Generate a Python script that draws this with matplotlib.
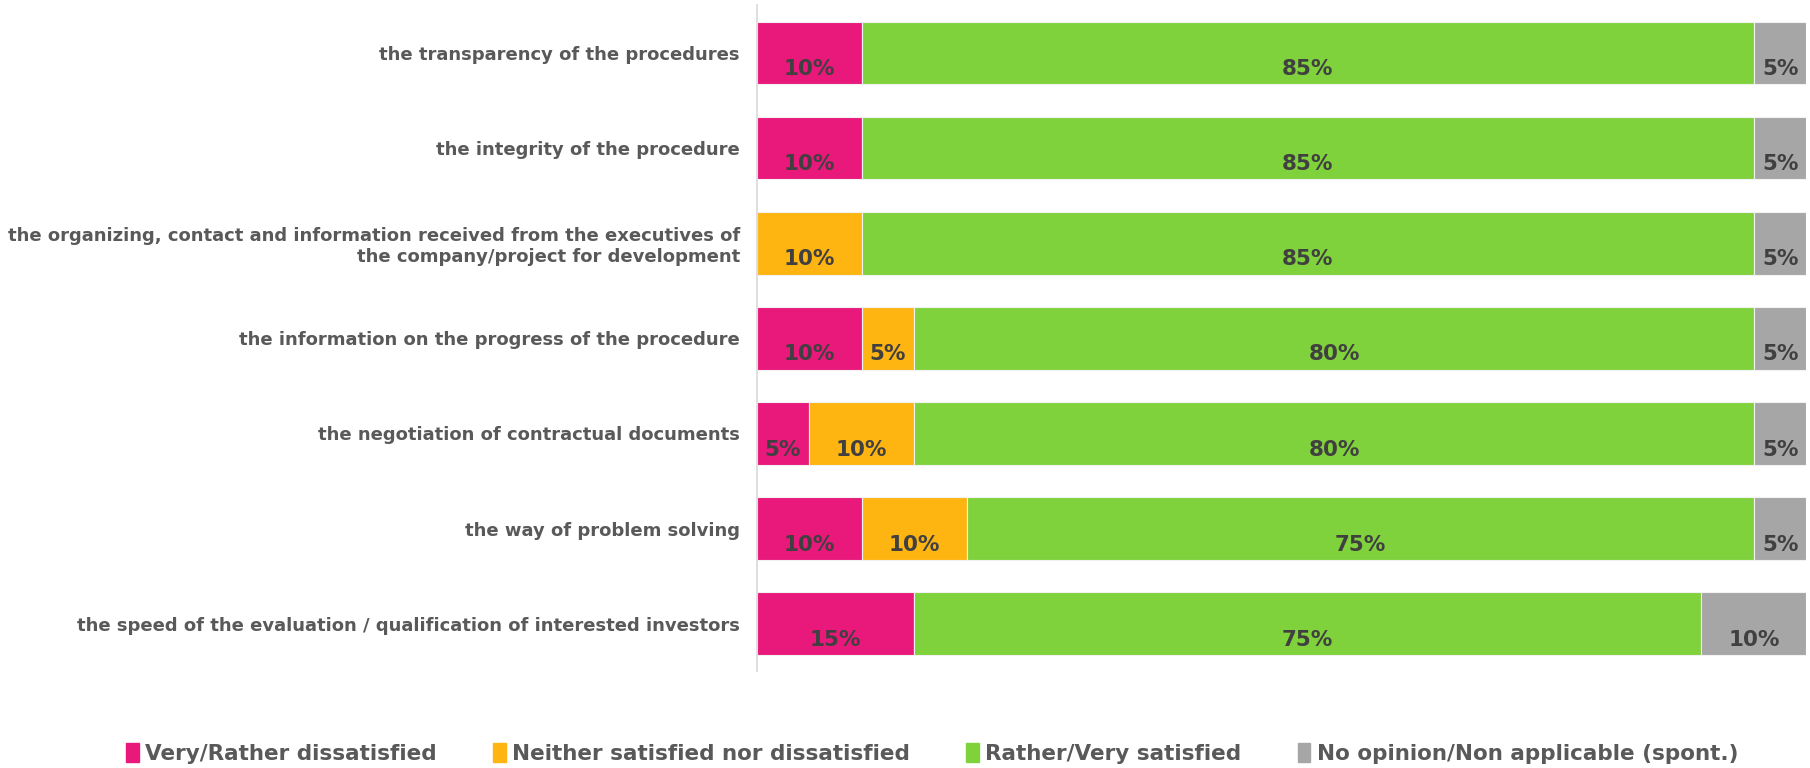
import numpy as np
import matplotlib.pyplot as plt
from matplotlib.patches import Patch

# survey items, top to bottom
items = [
    "the transparency of the procedures",
    "the integrity of the procedure",
    "the organizing, contact and information received from the executives of\nthe company/project for development",
    "the information on the progress of the procedure",
    "the negotiation of contractual documents",
    "the way of problem solving",
    "the speed of the evaluation / qualification of interested investors",
]
series = ["Very/Rather dissatisfied", "Neither satisfied nor dissatisfied",
          "Rather/Very satisfied", "No opinion/Non applicable (spont.)"]
dissatisfied = [10, 10, 0, 10, 5, 10, 15]
neither = [0, 0, 10, 5, 10, 10, 0]
satisfied = [85, 85, 85, 80, 80, 75, 75]
no_opinion = [5, 5, 5, 5, 5, 5, 10]

colors = ["#E8197A", "#FFB511", "#80D23C", "#A6A6A6"]
label_col = "#404040"
text_col = "#595959"

fig = plt.figure(figsize=(18.1, 7.68), dpi=100)
ax = fig.add_axes([0.418, 0.126, 0.58, 0.867])

y = np.arange(len(items))
left = np.zeros(len(items))
for vals, c in zip([dissatisfied, neither, satisfied, no_opinion], colors):
    vals = np.array(vals, dtype=float)
    ax.barh(y, vals, left=left, height=0.66, color=c, edgecolor="#f2f2f2", linewidth=0.8)
    for yi, l, v in zip(y, left, vals):
        if v > 0:
            ax.text(l + v / 2, yi + 0.17, f"{int(v)}%", ha="center", va="center",
                    fontsize=15.5, fontweight="bold", color=label_col,
                    family="DejaVu Sans")
    left += vals

ax.set_xlim(0, 100)
ax.set_ylim(len(items) - 0.5, -0.5)
ax.set_yticks(y)
ax.set_yticklabels(items, fontsize=13, fontweight="bold", color=text_col,
                   family="DejaVu Sans Condensed")
ax.tick_params(axis="y", length=0, pad=12)
ax.set_xticks([])
for s in ["top", "right", "bottom"]:
    ax.spines[s].set_visible(False)
ax.spines["left"].set_color("#d9d9d9")
ax.spines["left"].set_linewidth(1.2)

handles = [Patch(color=c, label=s) for c, s in zip(colors, series)]
leg = fig.legend(handles=handles, loc="center", bbox_to_anchor=(0.515, 0.019), ncol=4,
                 frameon=False, handlelength=0.6, handleheight=1.0, handletextpad=0.3,
                 columnspacing=2.6, prop={"family": "DejaVu Sans Condensed", "weight": "bold", "size": 15.5})
for t in leg.get_texts():
    t.set_color(text_col)

fig.savefig("out.png", dpi=100)
